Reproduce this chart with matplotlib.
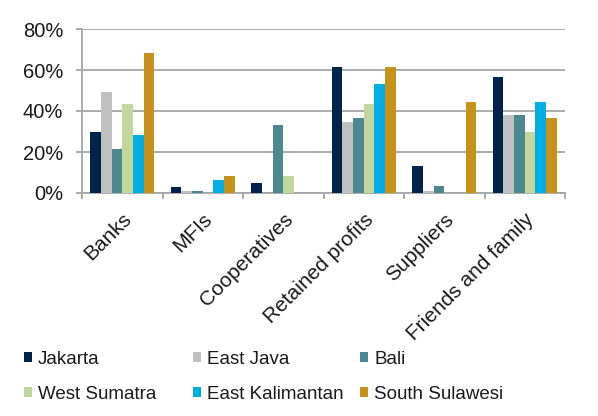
import matplotlib
matplotlib.use("Agg")
import matplotlib.pyplot as plt
import numpy as np
from matplotlib.ticker import FuncFormatter, MultipleLocator

plt.rcParams['font.family'] = ['Liberation Sans', 'DejaVu Sans']

categories = ["Banks", "MFIs", "Cooperatives", "Retained profits", "Suppliers", "Friends and family"]
regions = ["Jakarta", "East Java", "Bali", "West Sumatra", "East Kalimantan", "South Sulawesi"]

jakarta = [30, 3, 5, 61.5, 13, 56.5]
east_java = [49.5, 1.2, 0, 34.5, 1, 38]
bali = [21.5, 1.2, 33.3, 36.5, 3.3, 38]
west_sumatra = [43.3, 0, 8.3, 43.5, 0, 30]
east_kalimantan = [28.3, 6.5, 0, 53.3, 0, 44.5]
south_sulawesi = [68.5, 8.3, 0, 61.5, 44.5, 36.5]

series = [jakarta, east_java, bali, west_sumatra, east_kalimantan, south_sulawesi]
colors = ["#00234A", "#C0C0C0", "#4D8790", "#C3D69B", "#00AEE6", "#C6921A"]

W, H = 598, 416
fig = plt.figure(figsize=(W / 100, H / 100), dpi=100)
ax = fig.add_axes([82 / W, 1 - 193 / H, (565 - 82) / W, (193 - 29) / H])

n = len(series)
group_w = 0.8
bw = group_w / n
x = np.arange(len(categories))
handles = []
for i, (vals, c, name) in enumerate(zip(series, colors, regions)):
    b = ax.bar(x - group_w / 2 + bw * (i + 0.5), vals, width=bw, color=c, label=name,
               linewidth=0, zorder=3)
    handles.append(b)

ax.set_xlim(-0.5, len(categories) - 0.5)
ax.set_ylim(0, 80)
ax.yaxis.set_major_locator(MultipleLocator(20))
ax.yaxis.set_major_formatter(FuncFormatter(lambda v, p: f"{int(v)}%"))
ax.grid(axis='y', color='#A6A6A6', linewidth=1.3, zorder=0)

for s in ['top', 'right']:
    ax.spines[s].set_visible(False)
for s in ['left', 'bottom']:
    ax.spines[s].set_color('#A6A6A6')
    ax.spines[s].set_linewidth(1.3)

ax.set_xticks(x)
ax.set_xticklabels(categories, rotation=45, ha='right', rotation_mode='anchor',
                   fontsize=15, color='#1A1A1A')
ax.tick_params(axis='x', length=0, pad=12)
ax.set_xticks(np.arange(-0.5, len(categories)), minor=True)
ax.tick_params(axis='x', which='minor', length=4.5, color='#A6A6A6', width=1.3, direction='out')
ax.tick_params(axis='y', length=4.5, color='#A6A6A6', width=1.3, labelsize=14.5,
               labelcolor='#1A1A1A', pad=9)

# Legend laid out as three evenly spaced columns of two entries each
col_x = [24, 193, 360]
for col in range(3):
    hs = [handles[col], handles[col + 3]]
    ls = [regions[col], regions[col + 3]]
    fig.legend(hs, ls, loc='upper left', bbox_to_anchor=(col_x[col] / W, 1 - 351 / H),
               frameon=False, fontsize=13.5, handlelength=0.45, handleheight=0.45,
               handletextpad=0.3, labelspacing=0.95, borderpad=0, borderaxespad=0,
               labelcolor='#1A1A1A')

fig.savefig("out.png", dpi=100)
